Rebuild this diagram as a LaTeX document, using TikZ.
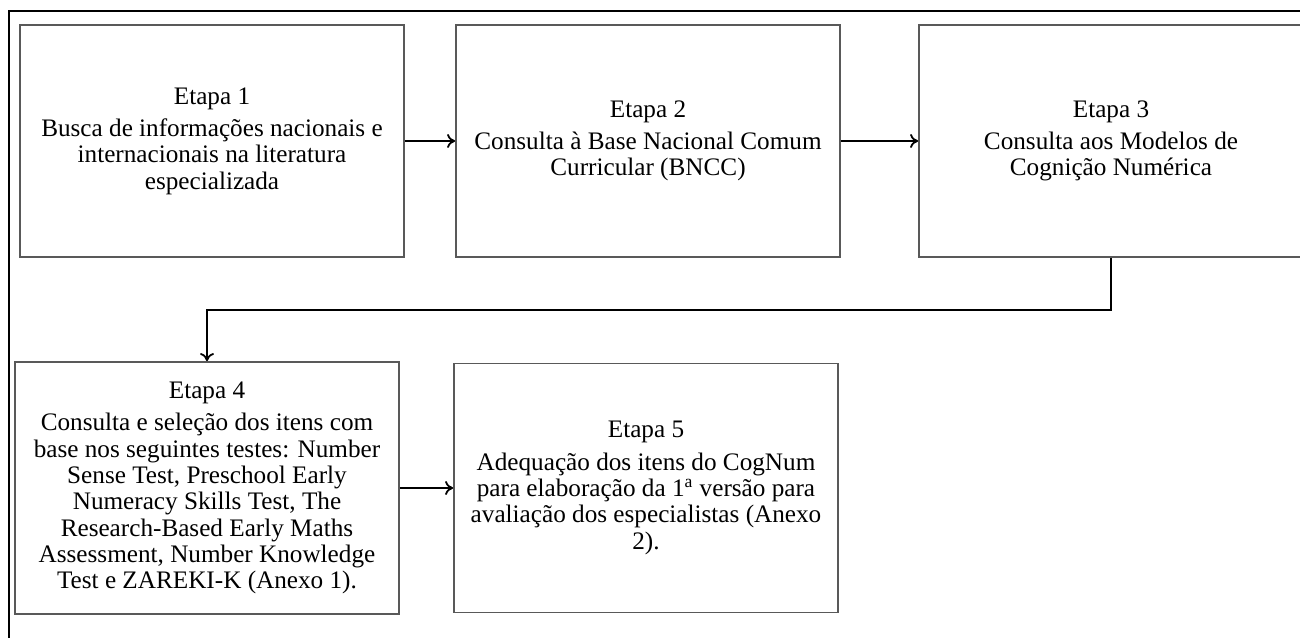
\documentclass[tikz,border=0pt]{standalone}
\usepackage{fontspec}
\setmainfont{Liberation Serif}
\usetikzlibrary{arrows.meta}
\def\gap{3pt}
\tikzset{stage/.style={draw=black!65, line width=0.9pt, align=center, inner sep=0pt, minimum width=192pt, minimum height=116pt, font=\fontsize{12.6}{13.15}\selectfont}}
\tikzset{flow/.style={line width=0.9pt, -{To[length=4pt,width=7pt]}}}
\tikzset{frame/.style={line width=0.6pt}}

\begin{document}
\begin{tikzpicture}[x=0.5pt, y=0.5pt]
        \useasboundingbox (0,0) rectangle (1300,637);
        \clip (0,0) rectangle (1300,637);
        % Frame (runs off the page on the right and at the bottom)
        \draw[frame] (9,-20) -- (9,626) -- (1320,626);
        % First row
        \node[stage] (s1) at (212,496) {Etapa 1\\[\gap]
          Busca de informações nacionais e\\
          internacionais na literatura\\
          especializada};
        \node[stage] (s2) at (648,496) {Etapa 2\\[\gap]
          Consulta à Base Nacional Comum\\
          Curricular (BNCC)};
        \node[stage] (s3) at (1111,496) {Etapa 3\\[\gap]
          Consulta aos Modelos de\\
          Cognição Numérica};
        % Second row
        \node[stage, minimum height=126pt] (s4) at (207,149) {Etapa 4\\[\gap]
          Consulta e seleção dos itens com\\
          base nos seguintes testes: Number\\
          Sense Test, Preschool Early\\
          Numeracy Skills Test, The\\
          Research-Based Early Maths\\
          Assessment, Number Knowledge\\
          Test e ZAREKI-K (Anexo 1).};
        \node[stage, minimum height=124.5pt] (s5) at (646,149) {Etapa 5\\[\gap]
          Adequação dos itens do CogNum\\
          para elaboração da 1\textsuperscript{a} versão para\\
          avaliação dos especialistas (Anexo\\
          2).};
        % Connectors
        \draw[flow] (s1) -- (s2);
        \draw[flow] (s2) -- (s3);
        \draw[flow] (s3.south) -- ++(0,-52) coordinate (turn) -| (s4.north);
        \draw[flow] (s4) -- (s5);
\end{tikzpicture}
\end{document}
